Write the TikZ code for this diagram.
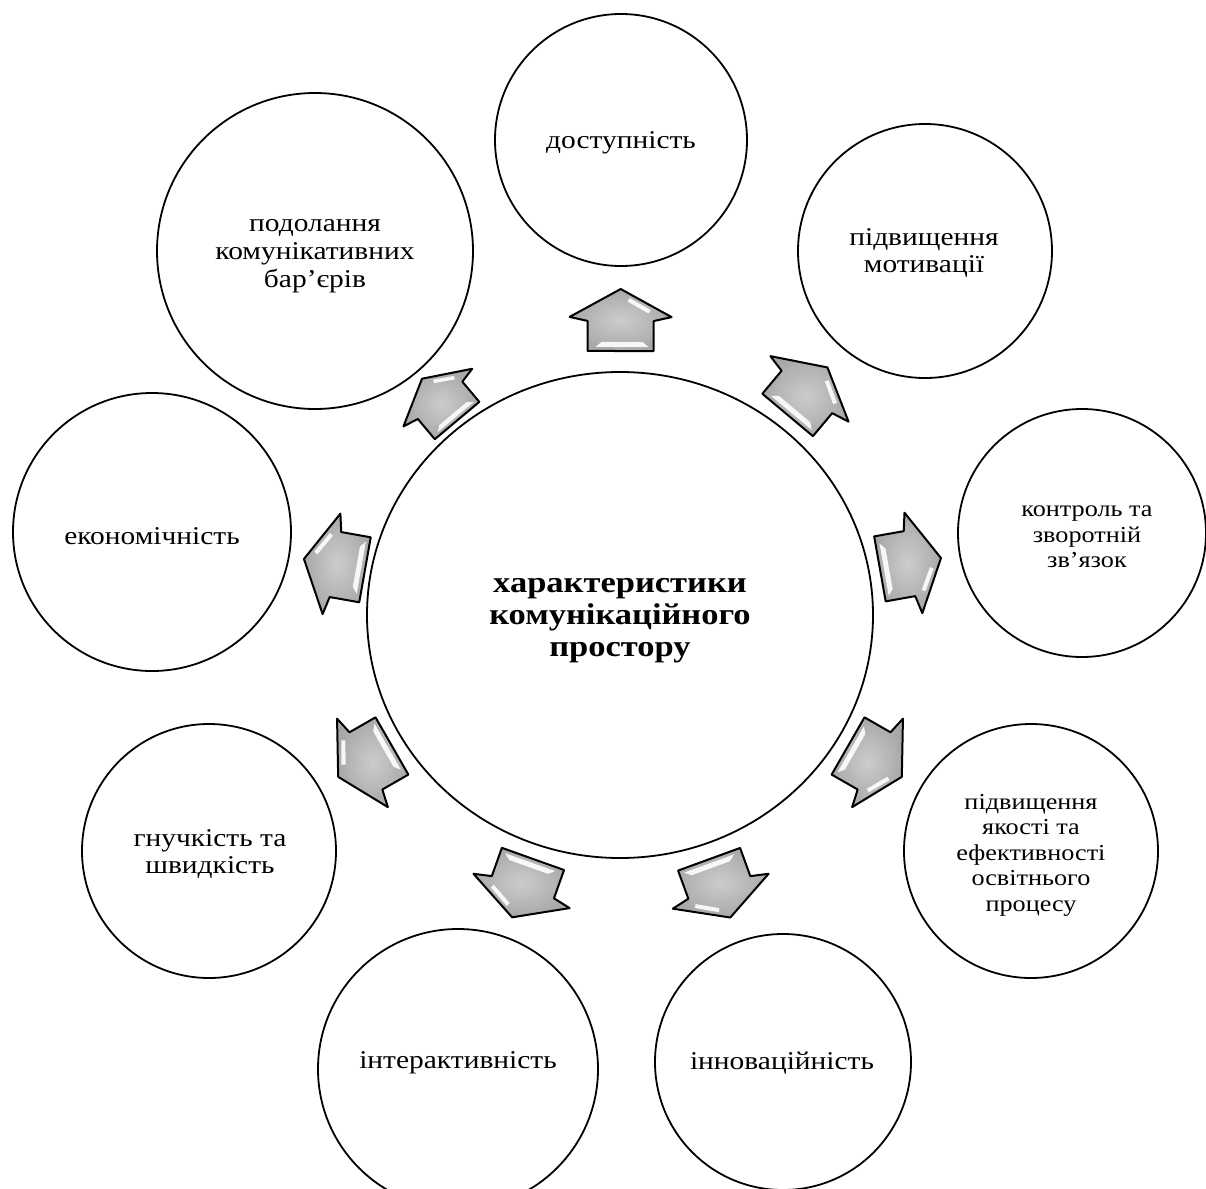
\documentclass[tikz,border=0pt]{standalone}
\usepackage{fontspec}
\setmainfont{Liberation Serif}[FakeStretch=1.15]
\usetikzlibrary{calc,shapes.geometric}
\tikzset{
  bubble/.style={circle,draw=black,line width=0.9pt,fill=white,inner sep=0pt,minimum size=#1},
  txt/.style={align=center,inner sep=0pt,font=\fontsize{12.8}{13.9}\selectfont},
  txtsmall/.style={align=center,inner sep=0pt,font=\fontsize{11.4}{12.75}\selectfont},
  ctxt/.style={align=center,inner sep=0pt,font=\bfseries\fontsize{15}{16}\selectfont},
  barrow/.pic={
    \shadedraw[shading=radial,inner color=black!20,outer color=black!34,draw=black,line width=1pt,line join=round]
      (31,0) -- (3,51) -- (-1,33) -- (-31,33) -- (-31,-33) -- (-1,-33) -- (3,-51) -- cycle;
    \fill[white,opacity=0.9] (22,9) -- (10,30) -- (6.5,28) -- (18.5,7) -- cycle;
    \fill[white,opacity=0.9] (-22,-19) -- (-22,22) -- (-27,28) -- (-27,-25) -- cycle;
  }
}
\begin{document}
\begin{tikzpicture}[x=0.5pt,y=-0.5pt]
\useasboundingbox (0,0) rectangle (1206,1189);
\clip (0,0) rectangle (1206,1189);
% central
\node[ellipse,draw=black,line width=0.9pt,fill=white,inner sep=0pt,minimum width=253pt,minimum height=243pt] (c) at (620,615) {};
\node[ctxt] (ct) at (620,621) {характеристики\\комунікаційного\\простору};
% outer circles
\node[bubble=126pt] (n1) at (621,140) {};
\node[bubble=127pt] (n2) at (925,251) {};
\node[bubble=124pt] (n3) at (1082,533) {};
\node[bubble=127pt] (n4) at (1031,851) {};
\node[bubble=128pt] (n5) at (783,1062) {};
\node[bubble=140pt] (n6) at (458,1069) {};
\node[bubble=127pt] (n7) at (209,851) {};
\node[bubble=139pt] (n8) at (152,532) {};
\node[bubble=158pt] (n9) at (315,251) {};
% texts
\node[txt] (t1) at (621,143) {доступність};
\node[txt] (t2) at (924,253) {підвищення\\мотивації};
\node[txtsmall] (t3) at (1087,537) {контроль та\\зворотній\\зв’язок};
\node[txtsmall] (t4) at (1031,855) {підвищення\\якості та\\ефективності\\освітнього\\процесу};
\node[txt] (t5) at (782,1063) {інноваційність};
\node[txt] (t6) at (458,1063) {інтерактивність};
\node[txt] (t7) at (210,854) {гнучкість та\\швидкість};
\node[txt] (t8) at (152,536) {економічність};
\node[txt] (t9) at (315,256) {подолання\\комунікативних\\бар’єрів};
% block arrows
\foreach \k/\d/\s in {1/147.5pt/1,2/146pt/1,3/147.5pt/1,4/147pt/1,5/145.5pt/1,6/145pt/1,7/147pt/1,8/145pt/1,9/140.5pt/0.88}{
  \path let \p1=($(n\k)-(c)$), \n1={atan2(\y1,\x1)} in
    pic[rotate=\n1,scale=\s] (a\k) at ($(c)!\d!(n\k)$) {barrow};
}
\end{tikzpicture}
\end{document}
